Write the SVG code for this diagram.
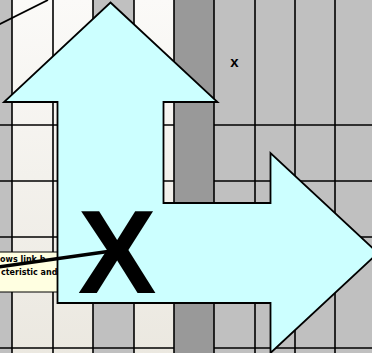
<svg xmlns="http://www.w3.org/2000/svg" width="372" height="353" viewBox="0 0 372 353">
  <defs>
    <linearGradient id="lightCol" x1="0" y1="0" x2="0" y2="1">
      <stop offset="0" stop-color="#fbfaf8"/>
      <stop offset="1" stop-color="#ebe8e0"/>
    </linearGradient>
    <style>
      .grid { stroke: #000; stroke-width: 1.6; fill: none; }
      .gray { fill: #c0c0c0; }
      .dark { fill: #999999; }
      .light { fill: url(#lightCol); }
      .arrow { fill: #ccffff; stroke: #000; stroke-width: 1.8; stroke-linejoin: miter; }
      .note { fill: #ffffe1; stroke: #000; stroke-width: 1; }
      .notetext { font-family: "DejaVu Sans", sans-serif; font-size: 8px; font-weight: bold; fill: #000; }
      .big { font-family: "Liberation Sans", Arial, sans-serif; font-weight: bold; fill: #000; }
    </style>
  </defs>

  <g id="background">
    <rect class="gray" x="0" y="0" width="12" height="353"/>
    <rect class="light" x="12" y="0" width="81" height="353"/>
    <rect class="gray" x="93" y="0" width="41" height="353"/>
    <rect class="light" x="134" y="0" width="40" height="353"/>
    <rect class="dark" x="174" y="0" width="40" height="353"/>
    <rect class="gray" x="214" y="0" width="158" height="353"/>
  </g>

  <g id="grid" class="grid">
    <line x1="12" y1="0" x2="12" y2="353"/>
    <line x1="53" y1="0" x2="53" y2="353"/>
    <line x1="93" y1="0" x2="93" y2="353"/>
    <line x1="134" y1="0" x2="134" y2="353"/>
    <line x1="174" y1="0" x2="174" y2="353"/>
    <line x1="214" y1="0" x2="214" y2="353"/>
    <line x1="255" y1="0" x2="255" y2="353"/>
    <line x1="295" y1="0" x2="295" y2="353"/>
    <line x1="335" y1="0" x2="335" y2="353"/>
    <line x1="0" y1="125" x2="174" y2="125"/>
    <line x1="214" y1="125" x2="372" y2="125"/>
    <line x1="0" y1="181" x2="174" y2="181"/>
    <line x1="214" y1="181" x2="372" y2="181"/>
    <line x1="0" y1="237" x2="174" y2="237"/>
    <line x1="214" y1="237" x2="372" y2="237"/>
    <line x1="0" y1="348" x2="174" y2="348"/>
    <line x1="214" y1="348" x2="372" y2="348"/>
  </g>

  <g id="note">
    <rect class="note" x="-20" y="252" width="100" height="40"/>
    <text class="notetext" x="0" y="262">ows link b</text>
    <text class="notetext" x="1" y="275">cteristic and</text>
  </g>

  <g id="shape-x-small">
    <text class="big" x="234.5" y="66.5" font-size="15" text-anchor="middle">x</text>
  </g>

  <g id="bent-arrow">
    <polygon class="arrow" points="110.5,2.5 217.5,102 163.5,102 163.5,203 270.5,203 270.5,153 378,253 270.5,353 270.5,303 57.5,303 57.5,102 4,102"/>
  </g>

  <g id="connectors">
    <line x1="-10" y1="29" x2="48" y2="0" stroke="#000" stroke-width="1.8"/>
    <line x1="-2" y1="267" x2="108" y2="251.5" stroke="#000" stroke-width="3.5"/>
  </g>

  <g id="big-x">
    <text class="big" x="117" y="293" font-size="118" text-anchor="middle">X</text>
  </g>
</svg>
